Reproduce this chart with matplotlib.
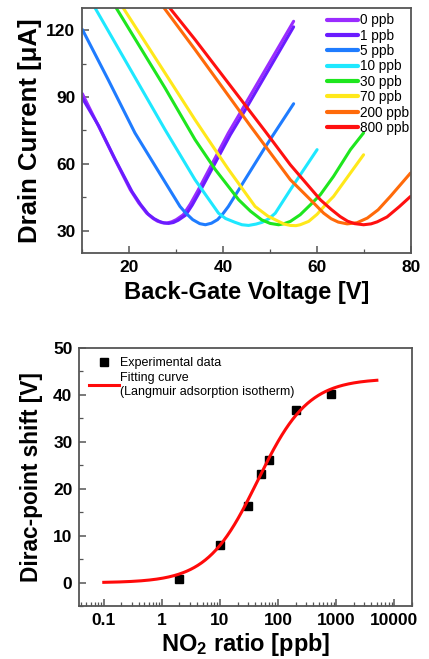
import numpy as np
import matplotlib
matplotlib.use("Agg")
import matplotlib.pyplot as plt
from matplotlib.ticker import MultipleLocator, LogLocator, NullFormatter, FixedLocator

plt.rcParams['font.family'] = ['Liberation Sans', 'DejaVu Sans']
plt.rcParams['mathtext.fontset'] = 'custom'
plt.rcParams['mathtext.bf'] = 'Liberation Sans:bold'
plt.rcParams['mathtext.rm'] = 'Liberation Sans'
plt.rcParams['mathtext.default'] = 'bf'

# transfer curves (gate voltage in V, drain current in uA) for each NO2 level
labels = ["0 ppb", "1 ppb", "5 ppb", "10 ppb", "30 ppb", "70 ppb", "200 ppb", "800 ppb"]
colors = ["#9a2cff", "#6a1cff", "#1f7cff", "#1ee8ff", "#1ee61e", "#ffe81a", "#ff6a0a", "#ff1010"]

vg_0 = [10, 13.1, 16.6, 20.2, 22.0, 23.7, 25.0, 26.0, 27.0, 28.0, 29.0, 30.0, 31.5, 33.0, 34.7, 41.1, 44.0, 55.0]
id_0 = [91.5, 78.4, 63.4, 48.4, 42.5, 37.9, 35.6, 34.3, 33.6, 33.5, 34.0, 35.0, 37.2, 42.0, 48.4, 73.9, 84.3, 124.0]
vg_1 = [10, 13.5, 17.0, 20.6, 22.4, 24.0, 25.3, 26.4, 27.4, 28.4, 29.4, 30.4, 32.0, 33.4, 35.0, 41.5, 44.5, 55.0]
id_1 = [89.5, 77.0, 62.0, 47.5, 41.8, 37.5, 35.4, 34.2, 33.5, 33.3, 33.7, 34.7, 37.0, 41.5, 47.5, 73.0, 83.5, 121.5]
vg_5 = [10, 15.5, 21.2, 27.3, 30.8, 32.0, 33.5, 35.0, 36.2, 37.5, 38.8, 40.0, 41.1, 45.4, 49.0, 55.0]
id_5 = [120.3, 97.8, 73.9, 52.9, 40.9, 38.0, 35.0, 33.2, 32.7, 33.4, 35.0, 37.8, 40.9, 55.5, 67.7, 87.0]
vg_10 = [12.7, 27.6, 34.0, 39.0, 40.5, 42.5, 44.0, 45.4, 47.0, 48.3, 49.8, 51.1, 54.3, 60.0]
id_10 = [130, 75.4, 52.9, 37.9, 35.5, 33.8, 32.7, 32.4, 33.0, 33.8, 35.5, 37.9, 48.4, 66.4]
vg_30 = [17.2, 27.6, 34.0, 38.3, 43.3, 45.8, 48.2, 50.0, 51.8, 53.0, 54.3, 56.4, 58.5, 60.7, 63.5, 67.1, 69.9]
id_30 = [130, 94.1, 70.9, 57.5, 43.9, 38.8, 34.9, 33.3, 32.7, 33.2, 34.2, 37.2, 41.5, 46.2, 54.4, 66.4, 73.9]
vg_70 = [18.7, 27.6, 34.0, 39.0, 41.1, 46.8, 49.5, 51.8, 53.0, 54.3, 55.5, 56.4, 58.2, 60.0, 62.1, 63.5, 69.9]
id_70 = [130, 100.8, 79.8, 64.1, 57.6, 40.9, 36.6, 34.2, 33.0, 32.4, 32.3, 32.7, 34.2, 37.4, 42.4, 45.4, 64.1]
vg_200 = [27.4, 34.0, 45.8, 54.3, 58.6, 61.4, 63.0, 64.5, 66.4, 68.5, 70.7, 73.0, 75.6, 79.9]
id_200 = [130, 111.3, 77.0, 52.9, 43.9, 37.9, 35.4, 33.9, 33.1, 33.6, 35.7, 39.4, 45.4, 55.9]
vg_800 = [28.6, 34.0, 49.0, 54.3, 60.7, 63.0, 64.9, 66.5, 68.0, 69.9, 71.5, 72.8, 74.9, 77.5, 79.9]
id_800 = [130, 115.8, 74.5, 59.6, 43.9, 39.6, 36.4, 34.3, 33.2, 32.7, 33.1, 34.0, 36.2, 40.8, 45.4]

vg_all = [vg_0, vg_1, vg_5, vg_10, vg_30, vg_70, vg_200, vg_800]
id_all = [id_0, id_1, id_5, id_10, id_30, id_70, id_200, id_800]

# Dirac-point shift vs concentration
conc = [2, 10, 30, 50, 70, 200, 800]
shift = [0.85, 8.1, 16.4, 23.1, 26.1, 36.75, 40.1]

# Langmuir fit parameters
fit_max = 43.5
fit_k = 0.0225
fit_range = (0.1, 5000)

fig = plt.figure(figsize=(4.29, 6.59), dpi=100)
ax1 = fig.add_axes([0.192, 0.616, 0.766, 0.372])
ax2 = fig.add_axes([0.185, 0.080, 0.775, 0.392])

for vg, idr, lab, c in zip(vg_all, id_all, labels, colors):
    ax1.plot(vg, idr, color=c, lw=2.2, label=lab, solid_capstyle='round', solid_joinstyle='round')

ax1.set_xlim(10, 80)
ax1.set_ylim(20, 130)
ax1.xaxis.set_major_locator(MultipleLocator(20))
ax1.xaxis.set_minor_locator(MultipleLocator(10))
ax1.yaxis.set_major_locator(FixedLocator([30, 60, 90, 120]))
ax1.yaxis.set_minor_locator(FixedLocator([45, 75, 105]))
ax1.set_xlabel("Back-Gate Voltage [V]", fontsize=17, fontweight='bold', labelpad=4)
ax1.set_ylabel("Drain Current [\u03bcA]", fontsize=18.5, fontweight='bold', labelpad=3)
leg = ax1.legend(loc='upper right', frameon=False, fontsize=9.8, handlelength=2.3,
                 handletextpad=0.1, labelspacing=0.1, borderaxespad=0.0,
                 bbox_to_anchor=(1.01, 1.0))
for h in leg.get_lines():
    h.set_linewidth(3)

ax2.plot(conc, shift, 's', color='black', ms=5.5, label="Experimental data")
c_fit = np.logspace(np.log10(fit_range[0]), np.log10(fit_range[1]), 300)
ax2.plot(c_fit, fit_max * fit_k * c_fit / (1 + fit_k * c_fit), color='#ff0a0a', lw=2.2,
         label="Fitting curve\n(Langmuir adsorption isotherm)")
ax2.set_xscale('log')
ax2.set_xlim(0.038, 20000)
ax2.set_ylim(-5, 50)
ax2.set_xticks([0.1, 1, 10, 100, 1000, 10000])
ax2.set_xticklabels(["0.1", "1", "10", "100", "1000", "10000"])
ax2.xaxis.set_minor_locator(LogLocator(base=10, subs=np.arange(2, 10), numticks=20))
ax2.xaxis.set_minor_formatter(NullFormatter())
ax2.yaxis.set_major_locator(FixedLocator([0, 10, 20, 30, 40, 50]))
ax2.yaxis.set_minor_locator(FixedLocator([-5, 5, 15, 25, 35, 45]))
ax2.set_xlabel("NO$_2$ ratio [ppb]", fontsize=17, fontweight='bold', labelpad=2)
ax2.set_ylabel("Dirac-point shift [V]", fontsize=16.3, fontweight='bold', labelpad=7)
ax2.legend(loc='upper left', frameon=False, fontsize=9, handlelength=2.4,
           handletextpad=0.1, labelspacing=0.25, borderaxespad=0.35,
           bbox_to_anchor=(0.0, 1.0))

for ax in (ax1, ax2):
    for s in ax.spines.values():
        s.set_color('#555555')
        s.set_linewidth(1.3)
    ax.tick_params(which='both', direction='in', top=False, right=False, color='#555555')
    ax.tick_params(which='major', length=5, width=1.1, labelsize=12.5, pad=5)
    ax.tick_params(which='minor', length=3, width=0.9)
    for t in ax.get_xticklabels() + ax.get_yticklabels():
        t.set_fontweight('bold')

fig.savefig("out.png", dpi=100)
